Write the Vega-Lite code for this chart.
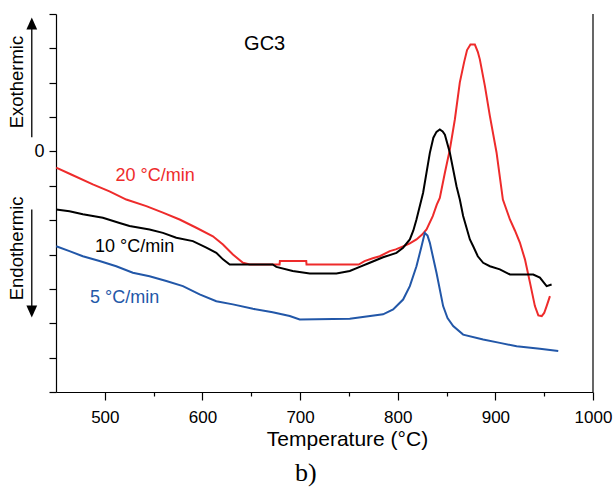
{
  "$schema": "https://vega.github.io/schema/vega-lite/v6.json",
  "autosize": {"type": "none"},
  "width": 537,
  "height": 378,
  "padding": {"left": 56, "top": 14, "right": 22, "bottom": 95},
  "config": {
    "view": {"stroke": null},
    "font": "Liberation Sans",
    "axis": {"grid": false, "domainColor": "#000", "tickColor": "#000", "labelColor": "#000", "titleColor": "#000", "domainWidth": 1.2, "tickWidth": 1.2, "labelOverlap": false}
  },
  "datasets": {
    "curves": [
      {"series": "20", "T": 450.2, "y": -0.47}, {"series": "20", "T": 465.6, "y": -0.67}, {"series": "20", "T": 487.7, "y": -0.96},
      {"series": "20", "T": 504.8, "y": -1.16}, {"series": "20", "T": 522.0, "y": -1.40}, {"series": "20", "T": 542.5, "y": -1.59},
      {"series": "20", "T": 559.5, "y": -1.78}, {"series": "20", "T": 576.6, "y": -1.98}, {"series": "20", "T": 593.7, "y": -2.22},
      {"series": "20", "T": 610.7, "y": -2.47}, {"series": "20", "T": 621.0, "y": -2.71}, {"series": "20", "T": 631.2, "y": -3.00},
      {"series": "20", "T": 641.5, "y": -3.24}, {"series": "20", "T": 648.4, "y": -3.29}, {"series": "20", "T": 679.0, "y": -3.29},
      {"series": "20", "T": 679.3, "y": -3.19}, {"series": "20", "T": 706.3, "y": -3.19}, {"series": "20", "T": 706.6, "y": -3.29},
      {"series": "20", "T": 760.0, "y": -3.29}, {"series": "20", "T": 766.0, "y": -3.19}, {"series": "20", "T": 774.4, "y": -3.11},
      {"series": "20", "T": 781.6, "y": -3.05}, {"series": "20", "T": 791.9, "y": -2.90}, {"series": "20", "T": 798.0, "y": -2.85},
      {"series": "20", "T": 805.5, "y": -2.76}, {"series": "20", "T": 812.0, "y": -2.68}, {"series": "20", "T": 819.2, "y": -2.56},
      {"series": "20", "T": 825.0, "y": -2.42}, {"series": "20", "T": 829.5, "y": -2.27}, {"series": "20", "T": 835.9, "y": -1.88},
      {"series": "20", "T": 840.0, "y": -1.55}, {"series": "20", "T": 843.1, "y": -1.35}, {"series": "20", "T": 848.3, "y": -0.62},
      {"series": "20", "T": 853.4, "y": 0.06}, {"series": "20", "T": 858.5, "y": 0.93}, {"series": "20", "T": 863.6, "y": 2.01},
      {"series": "20", "T": 868.0, "y": 2.60}, {"series": "20", "T": 871.0, "y": 2.95}, {"series": "20", "T": 874.5, "y": 3.11},
      {"series": "20", "T": 879.0, "y": 3.11}, {"series": "20", "T": 882.0, "y": 2.90}, {"series": "20", "T": 884.1, "y": 2.68},
      {"series": "20", "T": 889.3, "y": 1.90}, {"series": "20", "T": 894.4, "y": 1.03}, {"series": "20", "T": 901.2, "y": -0.03},
      {"series": "20", "T": 907.7, "y": -1.40}, {"series": "20", "T": 914.9, "y": -1.98}, {"series": "20", "T": 920.0, "y": -2.30},
      {"series": "20", "T": 925.1, "y": -2.65}, {"series": "20", "T": 930.3, "y": -3.14}, {"series": "20", "T": 935.4, "y": -3.81},
      {"series": "20", "T": 940.5, "y": -4.50}, {"series": "20", "T": 944.0, "y": -4.77}, {"series": "20", "T": 947.5, "y": -4.79},
      {"series": "20", "T": 950.0, "y": -4.70}, {"series": "20", "T": 952.5, "y": -4.50}, {"series": "20", "T": 955.9, "y": -4.21},

      {"series": "10", "T": 450.2, "y": -1.69}, {"series": "10", "T": 463.8, "y": -1.74}, {"series": "10", "T": 477.5, "y": -1.83},
      {"series": "10", "T": 498.0, "y": -1.93}, {"series": "10", "T": 515.1, "y": -2.08}, {"series": "10", "T": 525.3, "y": -2.17},
      {"series": "10", "T": 545.8, "y": -2.27}, {"series": "10", "T": 559.5, "y": -2.37}, {"series": "10", "T": 573.2, "y": -2.51},
      {"series": "10", "T": 590.2, "y": -2.61}, {"series": "10", "T": 604.0, "y": -2.80}, {"series": "10", "T": 614.2, "y": -2.95},
      {"series": "10", "T": 621.0, "y": -3.14}, {"series": "10", "T": 627.9, "y": -3.29}, {"series": "10", "T": 671.9, "y": -3.29},
      {"series": "10", "T": 675.7, "y": -3.36}, {"series": "10", "T": 692.4, "y": -3.48}, {"series": "10", "T": 709.9, "y": -3.55},
      {"series": "10", "T": 737.2, "y": -3.55}, {"series": "10", "T": 750.9, "y": -3.48}, {"series": "10", "T": 761.1, "y": -3.36},
      {"series": "10", "T": 771.4, "y": -3.24}, {"series": "10", "T": 785.0, "y": -3.08}, {"series": "10", "T": 798.7, "y": -2.95},
      {"series": "10", "T": 805.5, "y": -2.80}, {"series": "10", "T": 812.4, "y": -2.56}, {"series": "10", "T": 816.0, "y": -2.30},
      {"series": "10", "T": 819.2, "y": -1.98}, {"series": "10", "T": 826.0, "y": -1.20}, {"series": "10", "T": 832.9, "y": -0.04},
      {"series": "10", "T": 836.5, "y": 0.40}, {"series": "10", "T": 839.7, "y": 0.57}, {"series": "10", "T": 843.1, "y": 0.64},
      {"series": "10", "T": 846.0, "y": 0.58}, {"series": "10", "T": 848.3, "y": 0.49}, {"series": "10", "T": 853.4, "y": -0.04},
      {"series": "10", "T": 860.2, "y": -1.01}, {"series": "10", "T": 863.6, "y": -1.40}, {"series": "10", "T": 867.0, "y": -1.88},
      {"series": "10", "T": 873.9, "y": -2.56}, {"series": "10", "T": 877.3, "y": -2.76}, {"series": "10", "T": 882.0, "y": -3.05},
      {"series": "10", "T": 887.5, "y": -3.24}, {"series": "10", "T": 894.4, "y": -3.34}, {"series": "10", "T": 904.6, "y": -3.43},
      {"series": "10", "T": 914.9, "y": -3.58}, {"series": "10", "T": 938.8, "y": -3.58}, {"series": "10", "T": 945.6, "y": -3.67},
      {"series": "10", "T": 952.5, "y": -3.92}, {"series": "10", "T": 957.6, "y": -3.87},

      {"series": "5", "T": 450.2, "y": -2.76}, {"series": "5", "T": 463.8, "y": -2.90}, {"series": "5", "T": 477.5, "y": -3.05},
      {"series": "5", "T": 494.6, "y": -3.19}, {"series": "5", "T": 511.7, "y": -3.34}, {"series": "5", "T": 528.7, "y": -3.53},
      {"series": "5", "T": 545.8, "y": -3.63}, {"series": "5", "T": 563.0, "y": -3.77}, {"series": "5", "T": 580.0, "y": -3.92},
      {"series": "5", "T": 597.1, "y": -4.16}, {"series": "5", "T": 614.2, "y": -4.36}, {"series": "5", "T": 631.2, "y": -4.45},
      {"series": "5", "T": 651.7, "y": -4.58}, {"series": "5", "T": 671.9, "y": -4.68}, {"series": "5", "T": 689.4, "y": -4.79},
      {"series": "5", "T": 699.6, "y": -4.89}, {"series": "5", "T": 750.9, "y": -4.87}, {"series": "5", "T": 785.0, "y": -4.74},
      {"series": "5", "T": 795.3, "y": -4.60}, {"series": "5", "T": 805.5, "y": -4.31}, {"series": "5", "T": 812.4, "y": -3.92},
      {"series": "5", "T": 819.2, "y": -3.34}, {"series": "5", "T": 824.4, "y": -2.76}, {"series": "5", "T": 827.7, "y": -2.37},
      {"series": "5", "T": 830.5, "y": -2.45}, {"series": "5", "T": 832.9, "y": -2.66}, {"series": "5", "T": 839.7, "y": -3.53},
      {"series": "5", "T": 846.5, "y": -4.50}, {"series": "5", "T": 851.0, "y": -4.85}, {"series": "5", "T": 856.8, "y": -5.08},
      {"series": "5", "T": 867.0, "y": -5.33}, {"series": "5", "T": 887.5, "y": -5.47}, {"series": "5", "T": 904.6, "y": -5.57},
      {"series": "5", "T": 921.8, "y": -5.67}, {"series": "5", "T": 945.6, "y": -5.74}, {"series": "5", "T": 964.4, "y": -5.81}
    ],
    "frame": [{"T": 1000, "y1": -7, "y2": 4}],
    "arrows": [{"T": 425.2, "y1": 0.41, "y2": 3.72}, {"T": 425.2, "y1": -1.69, "y2": -4.66}],
    "heads": [{"T": 425.2, "y": 3.72, "dir": "up"}, {"T": 425.2, "y": -4.66, "dir": "down"}],
    "seriesLabels": [
      {"series": "20", "text": "20 °C/min", "T": 551.5, "y": -0.70},
      {"series": "10", "text": "10 °C/min", "T": 530.5, "y": -2.78},
      {"series": "5", "text": "5 °C/min", "T": 520.2, "y": -4.26}
    ],
    "sideLabels": [
      {"text": "Exothermic", "T": 410.0, "y": 2.02},
      {"text": "Endothermic", "T": 410.0, "y": -2.82}
    ],
    "sample": [{"text": "GC3", "T": 663.7, "y": 3.13}],
    "panel": [{"text": "b)", "T": 705.8, "y": -9.6}]
  },
  "layer": [
    {
      "data": {"name": "curves"},
      "mark": {"type": "line", "strokeWidth": 2},
      "encoding": {
        "x": {
          "field": "T", "type": "quantitative",
          "scale": {"domain": [450, 1000], "nice": false, "zero": false},
          "axis": {
            "values": [500, 550, 600, 650, 700, 750, 800, 850, 900, 950, 1000],
            "tickCount": 30,
            "format": "d",
            "labelExpr": "datum.value % 100 == 0 ? datum.label : ''",
            "tickSize": {"condition": {"test": "datum.value % 100 == 0", "value": 8}, "value": 4},
            "labelFontSize": 17,
            "labelPadding": 9,
            "labelFlush": false,
            "title": "Temperature (°C)",
            "titleFontSize": 21,
            "titleFontWeight": "normal",
            "titleX": 291,
            "titleY": 53,
            "titleBaseline": "alphabetic",
            "titleAlign": "center"
          }
        },
        "y": {
          "field": "y", "type": "quantitative",
          "scale": {"domain": [-7, 4], "nice": false, "zero": false},
          "axis": {
            "values": [-7, -6, -5, -4, -3, -2, -1, 0, 1, 2, 3, 4],
            "tickCount": 30,
            "format": "d",
            "labelExpr": "datum.value == 0 ? '0' : ''",
            "tickSize": 7,
            "labelFontSize": 18,
            "labelPadding": 5,
            "labelFlush": false,
            "labelBaseline": "middle",
            "title": null
          }
        },
        "color": {
          "field": "series", "type": "nominal",
          "scale": {"domain": ["20", "10", "5"], "range": ["#ee2b2b", "#000000", "#2257a8"]},
          "legend": null
        }
      }
    },
    {
      "data": {"name": "frame"},
      "mark": {"type": "rule", "strokeWidth": 1.2, "color": "#000"},
      "encoding": {
        "x": {"field": "T", "type": "quantitative"},
        "y": {"field": "y1", "type": "quantitative"},
        "y2": {"field": "y2"}
      }
    },
    {
      "data": {"name": "arrows"},
      "mark": {"type": "rule", "strokeWidth": 1.3, "color": "#000"},
      "encoding": {
        "x": {"field": "T", "type": "quantitative"},
        "y": {"field": "y1", "type": "quantitative"},
        "y2": {"field": "y2"}
      }
    },
    {
      "data": {"name": "heads"},
      "mark": {"type": "point", "filled": true, "color": "#000", "opacity": 1, "size": 144, "strokeWidth": 0},
      "encoding": {
        "x": {"field": "T", "type": "quantitative"},
        "y": {"field": "y", "type": "quantitative"},
        "shape": {
          "field": "dir", "type": "nominal",
          "scale": {"domain": ["up", "down"], "range": ["M0,-1L-0.9,1L0.9,1Z", "M0,1L-0.9,-1L0.9,-1Z"]},
          "legend": null
        }
      }
    },
    {
      "data": {"name": "seriesLabels"},
      "mark": {"type": "text", "fontSize": 18, "align": "center", "baseline": "middle"},
      "encoding": {
        "x": {"field": "T", "type": "quantitative"},
        "y": {"field": "y", "type": "quantitative"},
        "text": {"field": "text"},
        "color": {"field": "series", "type": "nominal", "legend": null}
      }
    },
    {
      "data": {"name": "sideLabels"},
      "mark": {"type": "text", "fontSize": 18.5, "align": "center", "baseline": "middle", "angle": 270, "color": "#000"},
      "encoding": {
        "x": {"field": "T", "type": "quantitative"},
        "y": {"field": "y", "type": "quantitative"},
        "text": {"field": "text"}
      }
    },
    {
      "data": {"name": "sample"},
      "mark": {"type": "text", "fontSize": 20, "align": "center", "baseline": "middle", "color": "#000"},
      "encoding": {
        "x": {"field": "T", "type": "quantitative"},
        "y": {"field": "y", "type": "quantitative"},
        "text": {"field": "text"}
      }
    },
    {
      "data": {"name": "panel"},
      "mark": {"type": "text", "fontSize": 26, "font": "Liberation Serif", "align": "center", "baseline": "alphabetic", "color": "#000"},
      "encoding": {
        "x": {"field": "T", "type": "quantitative"},
        "y": {"field": "y", "type": "quantitative"},
        "text": {"field": "text"}
      }
    }
  ]
}
